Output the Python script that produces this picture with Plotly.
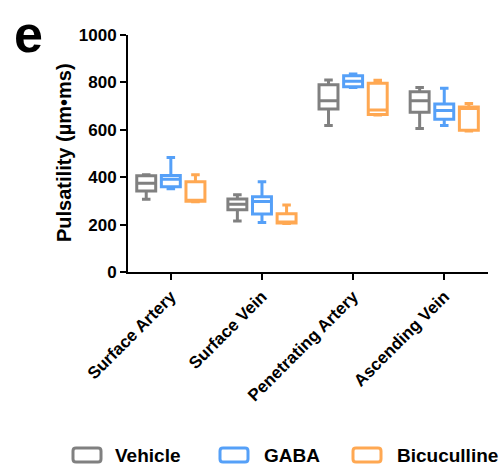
import plotly.graph_objects as go

categories = ["Surface Artery", "Surface Vein", "Penetrating Artery", "Ascending Vein"]

groups = ["Vehicle", "GABA", "Bicuculline"]
colors = ["#808080", "#55A0F8", "#FFA852"]

# Five-number summaries per group, in category order
vehicle_min = [307, 215, 618, 605]
vehicle_q1 = [342, 263, 688, 674]
vehicle_med = [374, 286, 723, 723]
vehicle_q3 = [406, 308, 790, 761]
vehicle_max = [410, 326, 810, 779]

gaba_min = [351, 209, 778, 618]
gaba_q1 = [360, 245, 782, 644]
gaba_med = [391, 297, 805, 681]
gaba_q3 = [407, 318, 828, 709]
gaba_max = [483, 381, 835, 775]

bicu_min = [296, 205, 662, 595]
bicu_q1 = [298, 207, 665, 598]
bicu_med = [302, 210, 684, 690]
bicu_q3 = [381, 246, 796, 696]
bicu_max = [410, 283, 809, 711]

stats = [
    (vehicle_min, vehicle_q1, vehicle_med, vehicle_q3, vehicle_max),
    (gaba_min, gaba_q1, gaba_med, gaba_q3, gaba_max),
    (bicu_min, bicu_q1, bicu_med, bicu_q3, bicu_max),
]

W, H = 499, 470
ML, MR, MT, MB = 128, 11, 35, 198
plot_w = W - ML - MR
plot_h = H - MT - MB


def px_x(x):
    return (x - ML) / plot_w


def px_y(y):
    return (H - MB - y) / plot_h


def rounded_key(x0, y0, x1, y1, r=3):
    """Rounded-rectangle SVG path in paper coordinates from pixel corners."""
    pts = [
        ("M", [(x0 + r, y0)]),
        ("L", [(x1 - r, y0)]), ("Q", [(x1, y0), (x1, y0 + r)]),
        ("L", [(x1, y1 - r)]), ("Q", [(x1, y1), (x1 - r, y1)]),
        ("L", [(x0 + r, y1)]), ("Q", [(x0, y1), (x0, y1 - r)]),
        ("L", [(x0, y0 + r)]), ("Q", [(x0, y0), (x0 + r, y0)]),
    ]
    parts = []
    for cmd, coords in pts:
        parts.append(cmd + " " + " ".join(f"{px_x(a):.5f},{px_y(b):.5f}" for a, b in coords))
    return " ".join(parts) + " Z"


fig = go.Figure()
for name, color, (lo, q1, med, q3, hi) in zip(groups, colors, stats):
    fig.add_trace(go.Box(
        name=name,
        x=categories,
        lowerfence=lo, q1=q1, median=med, q3=q3, upperfence=hi,
        line=dict(color=color, width=3),
        fillcolor="white",
        whiskerwidth=0.45,
        boxpoints=False,
        hoverinfo="skip",
        showlegend=False,
    ))

font_family = "Liberation Sans, Arial, sans-serif"
bold = dict(family=font_family, weight="bold", color="black")

# Legend along the bottom: rounded key followed by its label
legend_keys = [(73, 113), (220, 262), (353, 395)]
shapes = []
annotations = []
for (kx, tx), name, color in zip(legend_keys, groups, colors):
    shapes.append(dict(type="path", xref="paper", yref="paper",
                       path=rounded_key(kx, 448, kx + 28, 462),
                       line=dict(color=color, width=3)))
    annotations.append(dict(text=name, x=px_x(tx), y=px_y(455),
                            xref="paper", yref="paper", xanchor="left",
                            yanchor="middle", showarrow=False,
                            font=dict(size=19, **bold)))

annotations += [
    dict(text="e", x=px_x(28), y=px_y(34), xref="paper", yref="paper",
         xanchor="center", yanchor="middle", showarrow=False,
         height=46, valign="middle",
         font=dict(size=52, **bold)),
    dict(text="Pulsatility (µm•ms)", textangle=-90,
         x=px_x(64), y=px_y(153), xref="paper", yref="paper",
         xanchor="center", yanchor="middle", showarrow=False,
         font=dict(size=20, **bold)),
]

fig.update_layout(
    width=W, height=H,
    margin=dict(l=ML, r=MR, t=MT, b=MB),
    paper_bgcolor="white", plot_bgcolor="white",
    boxmode="group", boxgap=0.19, boxgroupgap=0.23,
    font=dict(family=font_family, color="black"),
    showlegend=False,
    xaxis=dict(
        type="category", range=[-0.47, 3.48],
        showline=True, linecolor="black", linewidth=2,
        ticks="outside", tickcolor="black", tickwidth=2, ticklen=6,
        tickangle=-45,
        tickfont=dict(size=17, **bold),
        showgrid=False, zeroline=False,
    ),
    yaxis=dict(
        range=[0, 1000], tickvals=[0, 200, 400, 600, 800, 1000],
        showline=True, linecolor="black", linewidth=2,
        ticks="outside", tickcolor="black", tickwidth=2, ticklen=6,
        tickfont=dict(size=17, **bold),
        showgrid=False, zeroline=False,
    ),
    shapes=shapes,
    annotations=annotations,
)

fig.write_html("out.html")
